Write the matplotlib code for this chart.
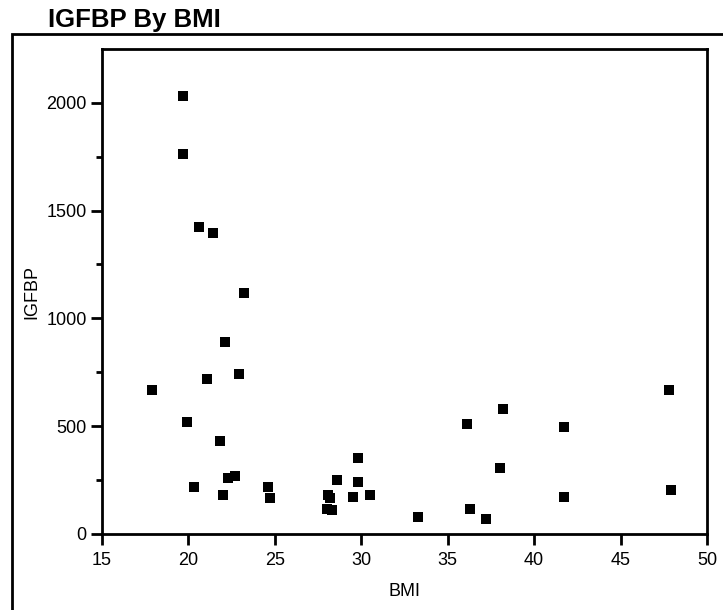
import matplotlib
matplotlib.use("Agg")
import matplotlib.pyplot as plt
from matplotlib.patches import Rectangle
from matplotlib.ticker import MultipleLocator

plt.rcParams['font.family'] = ['Liberation Sans', 'DejaVu Sans']

# values
bmi = [19.7, 19.7, 20.6, 21.4, 23.2, 22.1, 22.9, 21.1, 17.9, 19.9,
       21.8, 22.3, 22.7, 20.3, 22.0, 24.6, 24.7, 28.1, 28.2, 28.0,
       28.3, 28.6, 29.8, 29.8, 29.5, 30.5, 47.8, 38.2, 36.1, 41.7,
       38.0, 41.7, 47.9, 33.3, 36.3, 37.2]
igfbp = [2031, 1762, 1425, 1394, 1116, 889, 740, 717, 668, 519,
         433, 260, 268, 219, 179, 219, 166, 181, 166, 116,
         110, 250, 354, 242, 173, 181, 668, 581, 510, 495,
         306, 173, 204, 77, 116, 70]

x_ticks = [15, 20, 25, 30, 35, 40, 45, 50]
y_ticks = [0, 500, 1000, 1500, 2000]

fig = plt.figure(figsize=(7.23, 6.10), dpi=100)
ax = fig.add_axes([0.1411, 0.1246, 0.8368, 0.7943])

ax.plot(bmi, igfbp, linestyle='none', marker='s', markersize=7.2,
        color='black', markeredgewidth=0)

ax.set_xlim(15, 50)
ax.set_ylim(0, 2247)
ax.set_xticks(x_ticks)
ax.set_yticks(y_ticks)
ax.yaxis.set_minor_locator(MultipleLocator(250))
ax.tick_params(which='major', direction='out', length=8, width=2, labelsize=13)
ax.tick_params(axis='x', pad=5)
ax.tick_params(axis='y', pad=3)
ax.tick_params(which='minor', direction='out', length=4, width=2)
for s in ax.spines.values():
    s.set_linewidth(2)

ax.set_xlabel("BMI", fontsize=13, labelpad=10)
ax.set_ylabel("IGFBP", fontsize=13, labelpad=4)

fig.text(48 / 723, 1 - 27 / 610, "IGFBP By BMI", fontsize=18.5, fontweight='bold',
         ha='left', va='baseline')

# outer report frame
fig.patches.append(Rectangle((12 / 723, -0.1), 1.2, 1.1 - 34 / 610, transform=fig.transFigure,
                             fill=False, edgecolor='black', linewidth=2))

fig.savefig("out.png", dpi=100)
